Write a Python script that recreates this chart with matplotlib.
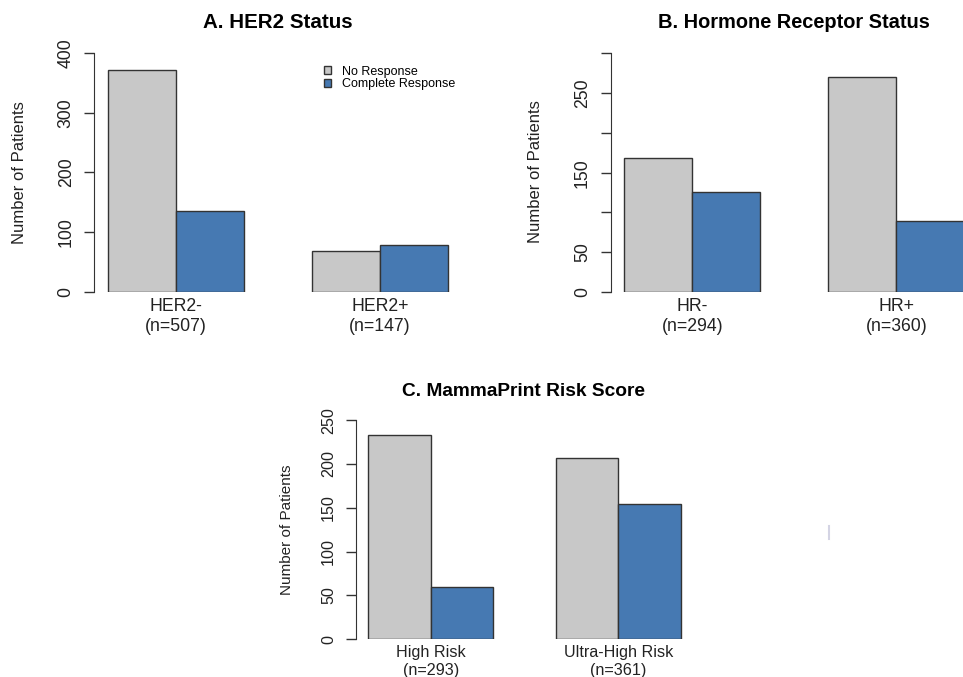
import matplotlib.pyplot as plt
import numpy as np
from matplotlib.lines import Line2D
from matplotlib.patches import Patch

# --- data ---
her2_groups = ["HER2-\n(n=507)", "HER2+\n(n=147)"]
her2_no = [372, 68]
her2_cr = [135, 79]

hr_groups = ["HR-\n(n=294)", "HR+\n(n=360)"]
hr_no = [168, 271]
hr_cr = [126, 89]

mp_groups = ["High Risk\n(n=293)", "Ultra-High Risk\n(n=361)"]
mp_no = [233, 207]
mp_cr = [60, 154]

legend_labels = ["No Response", "Complete Response"]

C_NO = "#C8C8C8"
C_CR = "#4679B2"
C_EDGE = "#333333"
C_TXT = "#222222"

W, H = 963, 677
plt.rcParams.update({
    "font.family": ["Liberation Sans", "DejaVu Sans"],
    "axes.edgecolor": C_EDGE,
    "xtick.color": C_TXT,
    "ytick.color": C_EDGE,
    "ytick.labelcolor": C_TXT,
})

fig = plt.figure(figsize=(W / 100, H / 100), dpi=100)


def px_axes(left, right, y0, top):
    """axes from pixel box (top-left origin)"""
    return fig.add_axes([left / W, 1 - y0 / H, (right - left) / W, (y0 - top) / H])


def barpanel(ax, groups, no, cr, ymax, ticks, ticklabels, fs):
    pos = 1 + 3 * np.arange(len(groups))
    ax.bar(pos + 0.5, no, width=1, color=C_NO, edgecolor=C_EDGE, linewidth=1)
    ax.bar(pos + 1.5, cr, width=1, color=C_CR, edgecolor=C_EDGE, linewidth=1)
    ax.set_xlim(0.8, 6.2)
    ax.set_ylim(0, ymax)
    for s in ["top", "right", "bottom"]:
        ax.spines[s].set_visible(False)
    ax.spines["left"].set_bounds(ticks[0], ticks[-1])
    ax.set_yticks(ticks)
    ax.set_yticklabels(ticklabels, rotation=90, va="center", fontsize=fs)
    ax.tick_params(axis="y", length=7.2, width=1, pad=7)
    ax.set_xticks(pos + 1)
    ax.set_xticklabels(groups, fontsize=fs, linespacing=1.25)
    ax.tick_params(axis="x", length=0, pad=4)


# Panel A
axA = px_axes(94.4, 461.6, 292, 47)
barpanel(axA, her2_groups, her2_no, her2_cr, 410,
         [0, 100, 200, 300, 400], ["0", "100", "200", "300", "400"], 12.7)
fig.text(278 / W, 1 - 23 / H, "A. HER2 Status", ha="center", va="center",
         fontsize=14.8, fontweight="bold")
fig.text(20 / W, 1 - 173 / H, "Number of Patients", rotation=90, ha="center",
         va="center", fontsize=12, color=C_TXT)
axA.legend(handles=[Patch(facecolor=C_NO, edgecolor=C_EDGE),
                    Patch(facecolor=C_CR, edgecolor=C_EDGE)],
           labels=legend_labels, frameon=False, fontsize=9,
           handlelength=0.55, handleheight=0.55, handletextpad=0.85,
           labelspacing=0.08, borderpad=0, borderaxespad=0,
           loc="upper left", bbox_to_anchor=(324 / W, 1 - 65.5 / H),
           bbox_transform=fig.transFigure)

# Panel B
axB = px_axes(610.7, 977.9, 292, 45.5)
barpanel(axB, hr_groups, hr_no, hr_cr, 310,
         [0, 50, 100, 150, 200, 250, 300], ["0", "50", "", "150", "", "250", ""], 12.7)
fig.text(794 / W, 1 - 23 / H, "B. Hormone Receptor Status", ha="center",
         va="center", fontsize=14.4, fontweight="bold")
fig.text(536 / W, 1 - 172 / H, "Number of Patients", rotation=90, ha="center",
         va="center", fontsize=12, color=C_TXT)

# Panel C
axC = px_axes(355.8, 693.3, 639.3, 411.3)
barpanel(axC, mp_groups, mp_no, mp_cr, 260,
         [0, 50, 100, 150, 200, 250], ["0", "50", "100", "150", "200", "250"], 11.6)
fig.text(524 / W, 1 - 392 / H, "C. MammaPrint Risk Score", ha="center",
         va="center", fontsize=13.8, fontweight="bold")
fig.text(287 / W, 1 - 530 / H, "Number of Patients", rotation=90, ha="center",
         va="center", fontsize=11, color=C_TXT)

# faint stray mark present in the source image
fig.add_artist(Line2D([829 / W, 829 / W], [1 - 526 / H, 1 - 539 / H],
                      color="#D4D4E4", linewidth=1.5))

fig.savefig("out.png", dpi=100)
